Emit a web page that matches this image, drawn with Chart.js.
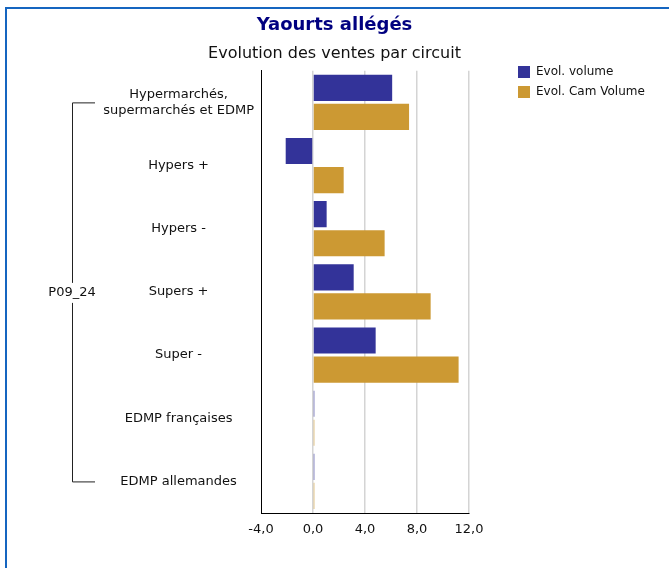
<!DOCTYPE html>
<html>
<head>
<meta charset="utf-8">
<script src="https://cdn.jsdelivr.net/npm/chart.js@4/dist/chart.umd.min.js"></script>
<style>
  html, body { margin: 0; padding: 0; background: #fff; }
  #wrap { width: 669px; height: 568px; }
</style>
</head>
<body>
<div id="wrap"><canvas id="myChart"></canvas></div>
<script>
// data
const circuits = [
  ['Hypermarchés,', 'supermarchés et EDMP'],
  'Hypers +',
  'Hypers -',
  'Supers +',
  'Super -',
  'EDMP françaises',
  'EDMP allemandes'
];
const groupLabel = 'P09_24';
const evolVolume = [6.09, -2.10, 1.05, 3.13, 4.82, 0.1, 0.1];
const evolCamVolume = [7.39, 2.36, 5.51, 9.05, 11.2, 0.1, 0.1];
const xTicks = [-4, 0, 4, 8, 12];

const FONT = 'Tahoma, "DejaVu Sans", sans-serif';

// blue frame + group bracket on the left
const decor = {
  id: 'decor',
  beforeDraw(chart) {
    const ctx = chart.ctx;
    ctx.save();
    ctx.fillStyle = '#1565c0';
    ctx.fillRect(5, 7, 2, chart.height - 7);
    ctx.fillRect(5, 7, chart.width - 5, 2);
    ctx.restore();
  },
  afterDraw(chart) {
    const ctx = chart.ctx;
    const y = chart.scales.y;
    const top = y.getPixelForValue(0);
    const bottom = y.getPixelForValue(circuits.length - 1);
    const mid = (top + bottom) / 2 + 1;
    ctx.save();
    ctx.strokeStyle = '#222';
    ctx.lineWidth = 1;
    ctx.beginPath();
    ctx.moveTo(95, top + 0.5); ctx.lineTo(72.5, top + 0.5);
    ctx.lineTo(72.5, mid - 10);
    ctx.moveTo(72.5, mid + 10);
    ctx.lineTo(72.5, bottom + 0.5); ctx.lineTo(95, bottom + 0.5);
    ctx.stroke();
    ctx.fillStyle = '#111';
    ctx.font = '13px ' + FONT;
    ctx.textAlign = 'center';
    ctx.textBaseline = 'middle';
    ctx.fillText(groupLabel, 72, mid);
    ctx.restore();
  }
};

// keep the legend box wide and move it up next to the plot
const legendPlace = {
  id: 'legendPlace',
  afterInit(chart) {
    const lg = chart.legend;
    const fit = lg.fit.bind(lg);
    lg.fit = function () { fit(); this.width = 200; };
  },
  afterLayout(chart) {
    const lg = chart.legend;
    const dx = chart.chartArea.right + 41 - lg.left;
    lg.left += dx; lg.right += dx;
    const dy = 58 - lg.top;
    lg.top += dy; lg.bottom += dy;
  }
};

new Chart('myChart', {
  type: 'bar',
  data: {
    labels: circuits,
    datasets: [
      {
        label: 'Evol. volume',
        data: evolVolume,
        backgroundColor: '#333399',
        categoryPercentage: 0.92,
        barPercentage: 0.9
      },
      {
        label: 'Evol. Cam Volume',
        data: evolCamVolume,
        backgroundColor: '#cc9933',
        categoryPercentage: 0.92,
        barPercentage: 0.9
      }
    ]
  },
  options: {
    indexAxis: 'y',
    responsive: true,
    maintainAspectRatio: false,
    animation: false,
    layout: { padding: { top: 0, left: 0, right: 0, bottom: 0 } },
    scales: {
      x: {
        min: -4,
        max: 12,
        afterBuildTicks(s) { s.ticks = xTicks.map(v => ({ value: v })); },
        afterFit(s) { s.height = 55; },
        ticks: {
          padding: 9,
          color: '#111',
          font: { family: FONT, size: 13 },
          callback: v => v.toFixed(1).replace('.', ',')
        },
        grid: {
          drawTicks: false,
          color: ctx => ctx.tick && ctx.tick.value === -4 ? 'rgba(0,0,0,0)' : '#d4d4d4',
          lineWidth: 1.5
        },
        border: { color: '#000', width: 1 }
      },
      y: {
        afterFit(s) { s.width = 261; },
        ticks: {
          crossAlign: 'center',
          padding: 7,
          color: '#111',
          font: { family: FONT, size: 13 }
        },
        grid: { display: false, drawTicks: false },
        border: { color: '#000', width: 1 }
      }
    },
    plugins: {
      title: {
        display: true,
        text: 'Yaourts allégés',
        color: '#000080',
        font: { family: FONT, size: 18, weight: 'bold' },
        padding: { top: 15, bottom: 5 }
      },
      subtitle: {
        display: true,
        text: 'Evolution des ventes par circuit',
        color: '#111',
        font: { family: FONT, size: 16 },
        padding: { top: 3, bottom: 7 }
      },
      legend: {
        position: 'right',
        align: 'start',
        labels: {
          boxWidth: 12,
          boxHeight: 12,
          padding: 8,
          color: '#111',
          font: { family: FONT, size: 12 }
        }
      },
      tooltip: { enabled: false }
    }
  },
  plugins: [decor, legendPlace]
});
</script>
</body>
</html>
